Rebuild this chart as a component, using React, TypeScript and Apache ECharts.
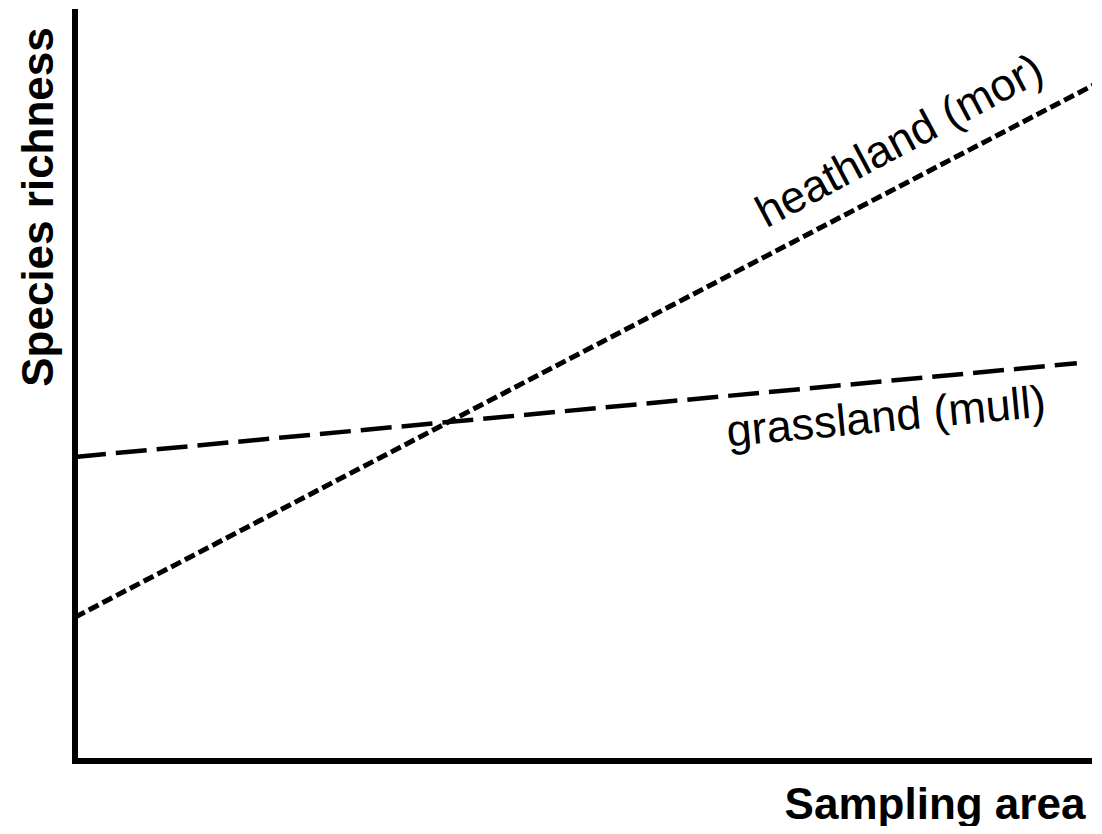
import React, { useEffect, useRef } from "react";
import * as echarts from "echarts";

const heathlandX = [0, 100.8];
const heathlandY = [19.2, 90.5];
const grasslandX = [0, 98.8];
const grasslandY = [40.6, 53.1];

const xTitle = "Sampling area";
const yTitle = "Species richness";
const heathLabel = "heathland (mor)";
const grassLabel = "grassland (mull)";

const FONT = "'Liberation Sans', Arial, Helvetica, sans-serif";

export default function App() {
  const ref = useRef<HTMLDivElement>(null);
  useEffect(() => {
    const chart = echarts.init(ref.current!, null, { renderer: "svg" });
    chart.setOption({
      animation: false,
      backgroundColor: "#ffffff",
      grid: { left: 75, right: 13, top: 12, bottom: 73, containLabel: false },
      xAxis: {
        type: "value",
        min: 0,
        max: 100,
        axisLine: { show: true, onZero: false, lineStyle: { color: "#000", width: 6, cap: "square" } },
        axisTick: { show: false },
        axisLabel: { show: false },
        splitLine: { show: false },
      },
      yAxis: {
        type: "value",
        min: 0,
        max: 100,
        axisLine: { show: true, onZero: false, lineStyle: { color: "#000", width: 6, cap: "square" } },
        axisTick: { show: false },
        axisLabel: { show: false },
        splitLine: { show: false },
      },
      series: [
        {
          name: "heathland (mor)",
          type: "line",
          clip: false,
          symbol: "none",
          data: heathlandX.map((x, i) => [x, heathlandY[i]]),
          lineStyle: { color: "#000", width: 5, type: [11, 4.5] },
        },
        {
          name: "grassland (mull)",
          type: "line",
          clip: false,
          symbol: "none",
          data: grasslandX.map((x, i) => [x, grasslandY[i]]),
          lineStyle: { color: "#000", width: 4.5, type: [31, 10] },
        },
      ],
      graphic: [
        {
          type: "text",
          x: 935,
          y: 803,
          style: {
            text: xTitle,
            font: `bold 44px ${FONT}`,
            fill: "#000",
            align: "center",
            verticalAlign: "middle",
          },
        },
        {
          type: "text",
          x: 37,
          y: 207,
          rotation: Math.PI / 2,
          style: {
            text: yTitle,
            font: `bold 44px ${FONT}`,
            fill: "#000",
            align: "center",
            verticalAlign: "middle",
          },
        },
        {
          type: "text",
          x: 899,
          y: 140,
          rotation: 0.49,
          style: {
            text: heathLabel,
            font: `45px ${FONT}`,
            fill: "#000",
            align: "center",
            verticalAlign: "middle",
          },
        },
        {
          type: "text",
          x: 886,
          y: 416,
          rotation: 0.094,
          style: {
            text: grassLabel,
            font: `45px ${FONT}`,
            fill: "#000",
            align: "center",
            verticalAlign: "middle",
          },
        },
      ],
    });
    return () => chart.dispose();
  }, []);
  return <div ref={ref} style={{ width: 1102, height: 834, margin: -8 }} />;
}
